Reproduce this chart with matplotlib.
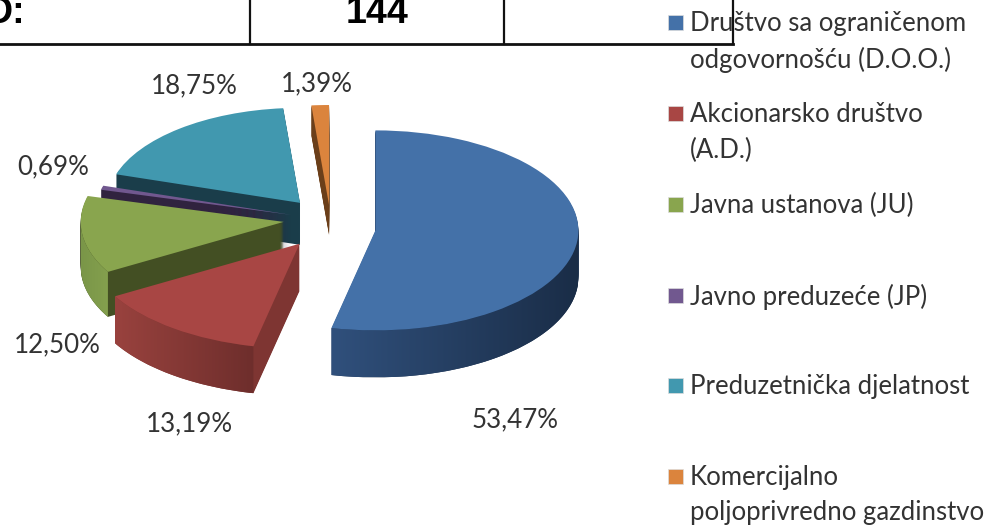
"""
Exploded 3D-look pie with the cropped table row above it and a legend on the right.
The depth is faked by stacking pies on top of each other.
"""

import matplotlib
matplotlib.use("Agg")
import matplotlib.pyplot as plt
import matplotlib.patches as mpatches
from matplotlib.colors import LinearSegmentedColormap
import numpy as np

plt.rcParams["font.family"] = ["Lato", "DejaVu Sans"]

LABELS = [
    "Društvo sa ograničenom\nodgovornošću (D.O.O.)",
    "Akcionarsko društvo\n(A.D.)",
    "Javna ustanova (JU)",
    "Javno preduzeće (JP)",
    "Preduzetnička djelatnost",
    "Komercijalno\npoljoprivredno gazdinstvo",
]
VALUES = [53.47, 13.19, 12.50, 0.69, 18.75, 1.39]
TABLE_TOTAL = "144"
TABLE_LABEL = "D:"

TOP_COLORS = ["#4471A8", "#A84644", "#89A54E", "#71588F", "#4198AF", "#DB843D"]
SIDE_COLORS = ["#1E3350", "#7E3532", "#434F23", "#30233F", "#1A3D4A", "#6B3F1A"]
# rim shading left -> right, only slices whose rim faces the viewer
RIM_SHADES = {
    0: ("#30507C", "#1A2D47"),
    1: ("#99423E", "#6E2E2C"),
    2: ("#7A9648", "#84A04E"),
}

W, H = 992, 526
CX, CY = 330, 226     # pie centre in pixels
RX, RY = 203, 100     # ellipse radii in pixels
EXPLODE = 0.22
# the original has some perspective: front slices a bit larger, back ones smaller
RADIUS_SCALE = [1.0, 1.05, 1.0, 0.97, 0.95, 1.0]
NUDGE_PX = [(1, 2), (-4, 0), (-2, -7), (4, -5), (-2, -6), (1, 1)]
SLICE_DEPTH = [47, 47, 45, 45, 42, 30]
DEPTH = max(SLICE_DEPTH)

fig = plt.figure(figsize=(W / 100, H / 100), dpi=100, facecolor="white")

# pie axes: one data unit is RX pixels across and RY pixels down
ax = fig.add_axes([0, 0, 1, 1])


def draw_layer(k):
    wedges, _ = ax.pie(
        VALUES,
        startangle=90,
        counterclock=False,
        explode=[EXPLODE] * len(VALUES),
        colors=TOP_COLORS if k == 0 else SIDE_COLORS,
        center=(0, -k / RY),
        radius=1.0,
        wedgeprops={"linewidth": 0, "zorder": 3 if k == 0 else 1},
    )
    for i, w in enumerate(wedges):
        cx, cy = w.center
        w.set_center((cx + NUDGE_PX[i][0] / RX, cy - NUDGE_PX[i][1] / RY))
        w.set_radius(RADIUS_SCALE[i])
        if k > SLICE_DEPTH[i]:
            w.set_visible(False)
    return wedges


for k in range(DEPTH, 0, -1):
    draw_layer(k)
top_wedges = draw_layer(0)

# horizontal shading on the front rim, clipped to the band between top and bottom arc
for i, (left, right) in RIM_SHADES.items():
    w = top_wedges[i]
    t1, t2 = max(w.theta1, -180), min(w.theta2, 0)
    t = np.radians(np.linspace(t1, t2, 120))
    xs = w.center[0] + w.r * np.cos(t)
    ys = w.center[1] + w.r * np.sin(t)
    band = np.column_stack([
        np.r_[xs, xs[::-1]],
        np.r_[ys, ys[::-1] - SLICE_DEPTH[i] / RY],
    ])
    cmap = LinearSegmentedColormap.from_list(f"rim{i}", [left, right])
    img = ax.imshow(
        np.linspace(0, 1, 256).reshape(1, -1),
        cmap=cmap,
        aspect="auto",
        extent=(xs.min(), xs.max(), band[:, 1].min(), band[:, 1].max()),
        zorder=2,
    )
    img.set_clip_path(mpatches.Polygon(band, closed=True, transform=ax.transData))

ax.set_aspect("auto")
ax.set_xlim(-CX / RX, (W - CX) / RX)
ax.set_ylim(-(H - CY) / RY, CY / RY)
ax.axis("off")

# overlay in pixel coordinates for the table, labels and legend
ov = fig.add_axes([0, 0, 1, 1], facecolor="none")
ov.set_xlim(0, W)
ov.set_ylim(H, 0)
ov.axis("off")

# percentages
pct_pos = [(515, 420), (189, 424), (57, 345), (53, 167), (194, 86), (317, 84)]
for v, (x, y) in zip(VALUES, pct_pos):
    ov.text(x, y, f"{v:.2f}%".replace(".", ","), ha="center", va="center",
            fontsize=18.7, color="#333333")

# legend
swatch_y = [22, 113, 204, 295, 385, 476]
for lab, col, y in zip(LABELS, TOP_COLORS, swatch_y):
    ov.add_patch(mpatches.Rectangle((668, y - 7.5), 15, 15, facecolor=col,
                                    edgecolor="#dddddd", linewidth=0.5))
    ov.text(690, y - 11, lab, ha="left", va="top", fontsize=18.5,
            color="#333333", linespacing=1.52)

# table row, cut off by the top of the picture
ov.plot([0, 733], [43.5, 43.5], color="#111111", lw=2)
for x in (250, 504, 733):
    ov.plot([x, x], [0, 44], color="#111111", lw=1.6)
ov.text(-15, 23, TABLE_LABEL, ha="left", va="baseline", fontsize=27,
        fontweight="bold", color="black", family="Liberation Sans")
ov.text(377, 23, TABLE_TOTAL, ha="center", va="baseline", fontsize=27,
        fontweight="bold", color="black", family="Liberation Sans")

fig.savefig("out.png", dpi=100)
